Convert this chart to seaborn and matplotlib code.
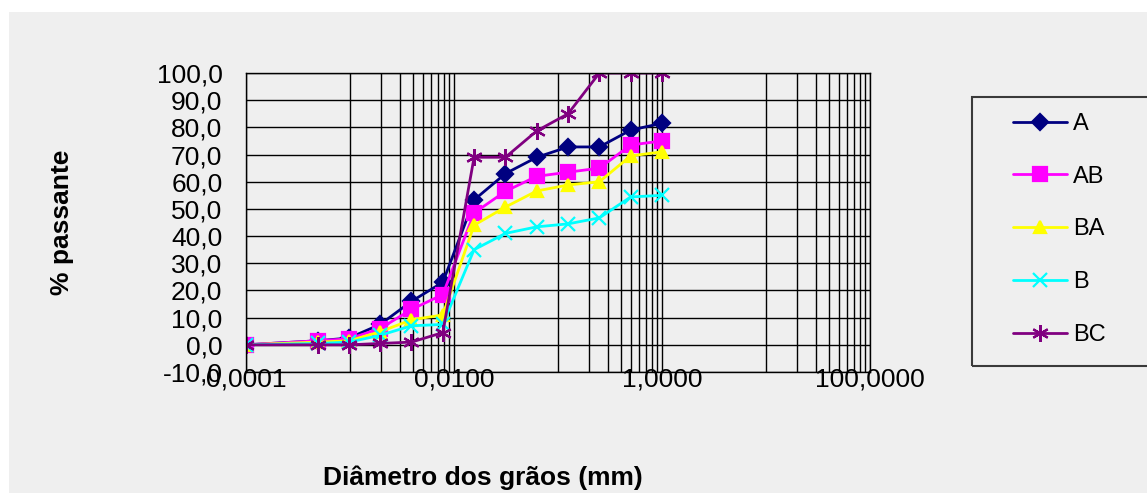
import matplotlib
matplotlib.use("Agg")
import matplotlib.pyplot as plt
from matplotlib.patches import Rectangle
from matplotlib.ticker import FixedLocator, NullFormatter
import seaborn as sns

# grain diameters (mm) and % passing per sample
diametro = [0.0001, 0.00049, 0.00098, 0.00195, 0.0039, 0.0078,
            0.0156, 0.03125, 0.0625, 0.125, 0.25, 0.5, 1.0]
a = [0.0, 1.5, 2.5, 7.5, 16.0, 23.0, 53.3, 63.0, 69.0, 72.8, 72.8, 79.0, 81.5]
ab = [0.0, 1.5, 2.2, 6.0, 13.0, 18.5, 48.5, 56.5, 62.0, 63.5, 65.0, 73.5, 75.0]
ba = [0.0, 1.0, 1.5, 4.8, 9.2, 11.0, 44.0, 50.7, 56.6, 58.8, 60.0, 69.5, 71.0]
b = [0.0, 0.5, 1.0, 3.5, 7.0, 7.5, 35.0, 41.0, 43.4, 44.5, 46.7, 54.4, 55.0]
bc = [0.0, 0.0, 0.0, 0.5, 1.0, 4.5, 69.0, 69.0, 78.7, 85.0, 100.0, 100.0, 100.0]

nomes = ["A", "AB", "BA", "B", "BC"]
series = [a, ab, ba, b, bc]
cores = ["#000080", "#ff00ff", "#ffff00", "#00ffff", "#800080"]
marcadores = ["D", "s", "^", "x", (6, 2, 0)]
tamanhos = [8, 10, 9, 10, 12]

x_ticks = [1e-4, 1e-3, 1e-2, 1e-1, 1, 10, 100]
x_labels = ["0,0001", "", "0,0100", "", "1,0000", "", "100,0000"]
y_ticks = list(range(-10, 101, 10))

sns.set_theme(style="white")
plt.rcParams["font.family"] = ["Liberation Sans", "DejaVu Sans"]
plt.rcParams["text.color"] = "black"
plt.rcParams["axes.labelcolor"] = "black"

W, H = 1147, 493
fig = plt.figure(figsize=(W / 100, H / 100), dpi=100)
fig.patch.set_facecolor("white")
fig.add_artist(Rectangle((9 / W, 0), 1, 1 - 12 / H, transform=fig.transFigure,
                         facecolor="#efefef", edgecolor="none", zorder=-10))

ax = fig.add_axes([246 / W, 1 - 372 / H, (870 - 246) / W, (372 - 73) / H])
ax.set_facecolor("#efefef")
ax.set_xscale("log")

for nome, vals, cor, m, ms in zip(nomes, series, cores, marcadores, tamanhos):
    sns.lineplot(x=diametro, y=vals, color=cor, marker=m, markersize=ms,
                 markeredgecolor=cor, markeredgewidth=1.6, linewidth=2,
                 label=nome, ax=ax)

ax.set_xlim(1e-4, 100)
ax.set_ylim(-10, 100)

# Excel-like minor gridlines in every other decade
minor = [k * 10.0 ** e for e in (-3, -1, 1) for k in range(2, 10)]
ax.xaxis.set_major_locator(FixedLocator(x_ticks))
ax.set_xticklabels(x_labels)
ax.xaxis.set_minor_locator(FixedLocator(minor))
ax.xaxis.set_minor_formatter(NullFormatter())
ax.set_yticks(y_ticks)
ax.set_yticklabels([f"{v:.1f}".replace(".", ",") for v in y_ticks])

ax.grid(which="both", axis="x", color="black", linewidth=1)
ax.grid(which="major", axis="y", color="black", linewidth=1)
ax.set_axisbelow(True)
for s in ax.spines.values():
    s.set_color("black")
    s.set_linewidth(1)

ax.tick_params(axis="both", which="both", length=0, labelsize=19,
               colors="black", labelcolor="black")
ax.tick_params(axis="y", pad=17)
ax.tick_params(axis="x", pad=-3)

ax.set_xlabel("Diâmetro dos grãos (mm)", fontsize=19, fontweight="bold", color="black")
ax.xaxis.set_label_coords((483 - 246) / 624, (372 - 478) / 299)
ax.xaxis.label.set_va("center")
ax.set_ylabel("% passante", fontsize=19, fontweight="bold", color="black")
ax.yaxis.set_label_coords((62 - 246) / 624, 0.5)
ax.yaxis.label.set_va("center")

handles, labels = ax.get_legend_handles_labels()
ax.get_legend().remove()
fig.add_artist(Rectangle((972 / W, 1 - 366 / H), (1160 - 972) / W, (366 - 97) / H,
                         transform=fig.transFigure, facecolor="none",
                         edgecolor="#3a3a3a", linewidth=1.5, clip_on=False))
leg = fig.legend(handles, labels, loc="upper left", bbox_to_anchor=(1013 / W, 1 - 113 / H),
                 frameon=False, fontsize=17, borderpad=0, borderaxespad=0,
                 handlelength=2.3, handletextpad=0.25, labelspacing=1.3)
for t in leg.get_texts():
    t.set_color("black")

fig.savefig("out.png", dpi=100)
